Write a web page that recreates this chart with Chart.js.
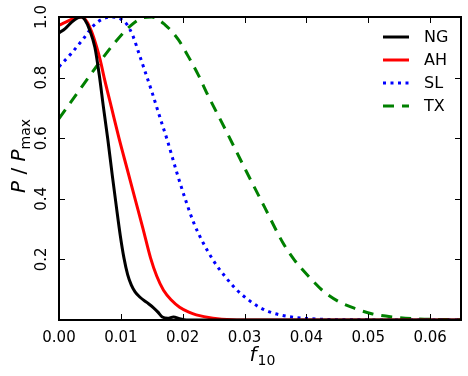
<!DOCTYPE html>
<html>
<head>
<meta charset="utf-8">
<script src="https://cdn.jsdelivr.net/npm/chart.js@4.4.0/dist/chart.umd.min.js"></script>
<style>
  html, body { margin: 0; padding: 0; background: #fff; }
  #wrap { width: 468px; height: 376px; }
</style>
</head>
<body>
<div id="wrap"><canvas id="grafico"></canvas></div>
<script>
// valores
const ngF = [0, 0.001, 0.002, 0.003, 0.0036, 0.0042, 0.005, 0.0058, 0.0065, 0.0072, 0.0079, 0.0086, 0.0093, 0.0099, 0.0105, 0.0111, 0.0117, 0.0123, 0.0131, 0.0142, 0.0152, 0.016, 0.0167, 0.0176, 0.0185, 0.0195, 0.0206, 0.025, 0.065];
const ngP = [0.947, 0.962, 0.982, 0.997, 1.0, 0.99, 0.955, 0.90, 0.81, 0.70, 0.595, 0.48, 0.37, 0.28, 0.205, 0.15, 0.115, 0.093, 0.075, 0.058, 0.042, 0.026, 0.01, 0.006, 0.01, 0.004, 0.0, 0, 0];

const ahF = [0, 0.001, 0.002, 0.003, 0.0036, 0.0045, 0.0053, 0.0061, 0.0067, 0.0073, 0.0085, 0.0097, 0.011, 0.0123, 0.0136, 0.0148, 0.0158, 0.0169, 0.0182, 0.0195, 0.021, 0.0222, 0.0249, 0.028, 0.032, 0.065];
const ahP = [0.973, 0.982, 0.992, 0.999, 1.0, 0.985, 0.95, 0.90, 0.855, 0.80, 0.70, 0.60, 0.50, 0.40, 0.30, 0.205, 0.145, 0.098, 0.065, 0.042, 0.026, 0.017, 0.006, 0.001, 0, 0];

const slF = [0, 0.002, 0.004, 0.0055, 0.007, 0.0085, 0.01, 0.011, 0.012, 0.013, 0.014, 0.0151, 0.0163, 0.0175, 0.019, 0.0204, 0.0218, 0.0233, 0.025, 0.0268, 0.0287, 0.0308, 0.0324, 0.034, 0.0357, 0.038, 0.04, 0.045, 0.065];
const slP = [0.836, 0.88, 0.93, 0.97, 0.993, 1.0, 0.993, 0.975, 0.935, 0.875, 0.815, 0.748, 0.67, 0.594, 0.49, 0.40, 0.32, 0.255, 0.195, 0.145, 0.10, 0.064, 0.042, 0.027, 0.017, 0.009, 0.005, 0.001, 0];

const txF = [0, 0.003, 0.006, 0.009, 0.0115, 0.0135, 0.015, 0.0171, 0.0193, 0.0209, 0.0225, 0.024, 0.027, 0.0303, 0.0333, 0.0362, 0.0381, 0.0405, 0.0426, 0.0453, 0.048, 0.0507, 0.0539, 0.0577, 0.065];
const txP = [0.665, 0.75, 0.835, 0.915, 0.97, 0.997, 1.0, 0.975, 0.925, 0.87, 0.81, 0.745, 0.625, 0.49, 0.37, 0.255, 0.197, 0.141, 0.0975, 0.06, 0.037, 0.02, 0.01, 0.004, 0.001];

const nomes = ['NG', 'AH', 'SL', 'TX'];
const xTicks = [0, 0.01, 0.02, 0.03, 0.04, 0.05, 0.06];
const yTicks = [0, 0.2, 0.4, 0.6, 0.8, 1.0];

function pontos(f, p) {
  return f.map((v, i) => ({ x: v, y: p[i] }));
}

const fonte = '"DejaVu Sans", sans-serif';

// legenda, moldura, marcas internas e títulos com subscrito
const extras = {
  id: 'extras',
  afterDraw(chart) {
    const ctx = chart.ctx;
    const a = chart.chartArea;
    const xs = chart.scales.x;
    const ys = chart.scales.y;
    ctx.save();

    // marcas para dentro
    ctx.strokeStyle = '#000';
    ctx.lineWidth = 1;
    xTicks.forEach(t => {
      const px = Math.round(xs.getPixelForValue(t)) + 0.5;
      ctx.beginPath();
      ctx.moveTo(px, a.bottom); ctx.lineTo(px, a.bottom - 6);
      ctx.moveTo(px, a.top); ctx.lineTo(px, a.top + 6);
      ctx.stroke();
    });
    yTicks.forEach(t => {
      const py = Math.round(ys.getPixelForValue(t)) + 0.5;
      ctx.beginPath();
      ctx.moveTo(a.left, py); ctx.lineTo(a.left + 6, py);
      ctx.moveTo(a.right, py); ctx.lineTo(a.right - 6, py);
      ctx.stroke();
    });

    // rótulos do eixo y (rotacionados)
    ctx.fillStyle = '#000';
    ctx.font = '15px ' + fonte;
    ctx.textAlign = 'center';
    ctx.textBaseline = 'middle';
    yTicks.forEach(t => {
      if (t === 0) return;
      const py = ys.getPixelForValue(t);
      ctx.save();
      ctx.translate(42, py);
      ctx.rotate(-Math.PI / 2);
      ctx.fillText(t.toFixed(1), 0, 0);
      ctx.restore();
    });

    // moldura
    ctx.lineWidth = 2;
    ctx.strokeRect(a.left, a.top, a.right - a.left, a.bottom - a.top);

    // título x: f_10
    ctx.textAlign = 'left';
    ctx.textBaseline = 'alphabetic';
    ctx.font = 'italic 20px ' + fonte;
    const wf = ctx.measureText('f').width;
    ctx.font = '14px ' + fonte;
    const w10 = ctx.measureText('10').width;
    let x0 = 262 - (wf + w10) / 2;
    ctx.font = 'italic 20px ' + fonte;
    ctx.fillText('f', x0, 361);
    ctx.font = '14px ' + fonte;
    ctx.fillText('10', x0 + wf + 1, 365);

    // título y: P / P_max
    ctx.save();
    ctx.translate(25, 156);
    ctx.rotate(-Math.PI / 2);
    ctx.font = 'italic 20px ' + fonte;
    const wp = ctx.measureText('P').width;
    ctx.font = '20px ' + fonte;
    const ws = ctx.measureText(' / ').width;
    ctx.font = '14px ' + fonte;
    const wm = ctx.measureText('max').width;
    let s = -(wp * 2 + ws + wm) / 2;
    ctx.font = 'italic 20px ' + fonte;
    ctx.fillText('P', s, 0); s += wp;
    ctx.font = '20px ' + fonte;
    ctx.fillText(' / ', s, 0); s += ws;
    ctx.font = 'italic 20px ' + fonte;
    ctx.fillText('P', s, 0); s += wp;
    ctx.font = '14px ' + fonte;
    ctx.fillText('max', s, 5);
    ctx.restore();

    // legenda
    ctx.font = '16px ' + fonte;
    ctx.textBaseline = 'middle';
    chart.data.datasets.forEach((ds, i) => {
      const y = 37 + i * 23;
      ctx.strokeStyle = ds.borderColor;
      ctx.lineWidth = ds.borderWidth;
      ctx.setLineDash(ds.borderDash || []);
      ctx.beginPath();
      ctx.moveTo(383, y); ctx.lineTo(409, y);
      ctx.stroke();
      ctx.setLineDash([]);
      ctx.fillStyle = '#000';
      ctx.fillText(ds.label, 424, y + 1);
    });

    ctx.restore();
  }
};

new Chart(document.getElementById('grafico'), {
  type: 'line',
  data: {
    datasets: [
      { label: nomes[0], data: pontos(ngF, ngP), borderColor: '#000000', borderWidth: 3 },
      { label: nomes[1], data: pontos(ahF, ahP), borderColor: '#ff0000', borderWidth: 3 },
      { label: nomes[2], data: pontos(slF, slP), borderColor: '#0000ff', borderWidth: 3, borderDash: [3, 4.5] },
      { label: nomes[3], data: pontos(txF, txP), borderColor: '#008000', borderWidth: 3, borderDash: [11, 8] }
    ]
  },
  options: {
    responsive: true,
    maintainAspectRatio: false,
    animation: false,
    events: [],
    layout: { padding: { left: 0, right: 7, top: 17, bottom: 0 } },
    elements: {
      point: { radius: 0 },
      line: { cubicInterpolationMode: 'monotone', borderCapStyle: 'butt', fill: false }
    },
    plugins: { legend: { display: false }, tooltip: { enabled: false } },
    scales: {
      x: {
        type: 'linear',
        min: 0,
        max: 0.065,
        afterBuildTicks: s => { s.ticks = xTicks.map(v => ({ value: v })); },
        afterFit: s => { s.height = 56; },
        grid: { display: false, drawTicks: false },
        border: { display: false },
        ticks: {
          padding: 9,
          color: '#000',
          font: { family: fonte, size: 15 },
          callback: v => v.toFixed(2)
        }
      },
      y: {
        min: 0,
        max: 1,
        afterBuildTicks: s => { s.ticks = yTicks.map(v => ({ value: v })); },
        afterFit: s => { s.width = 59; },
        grid: { display: false, drawTicks: false },
        border: { display: false },
        ticks: { display: false }
      }
    }
  },
  plugins: [extras]
});
</script>
</body>
</html>
